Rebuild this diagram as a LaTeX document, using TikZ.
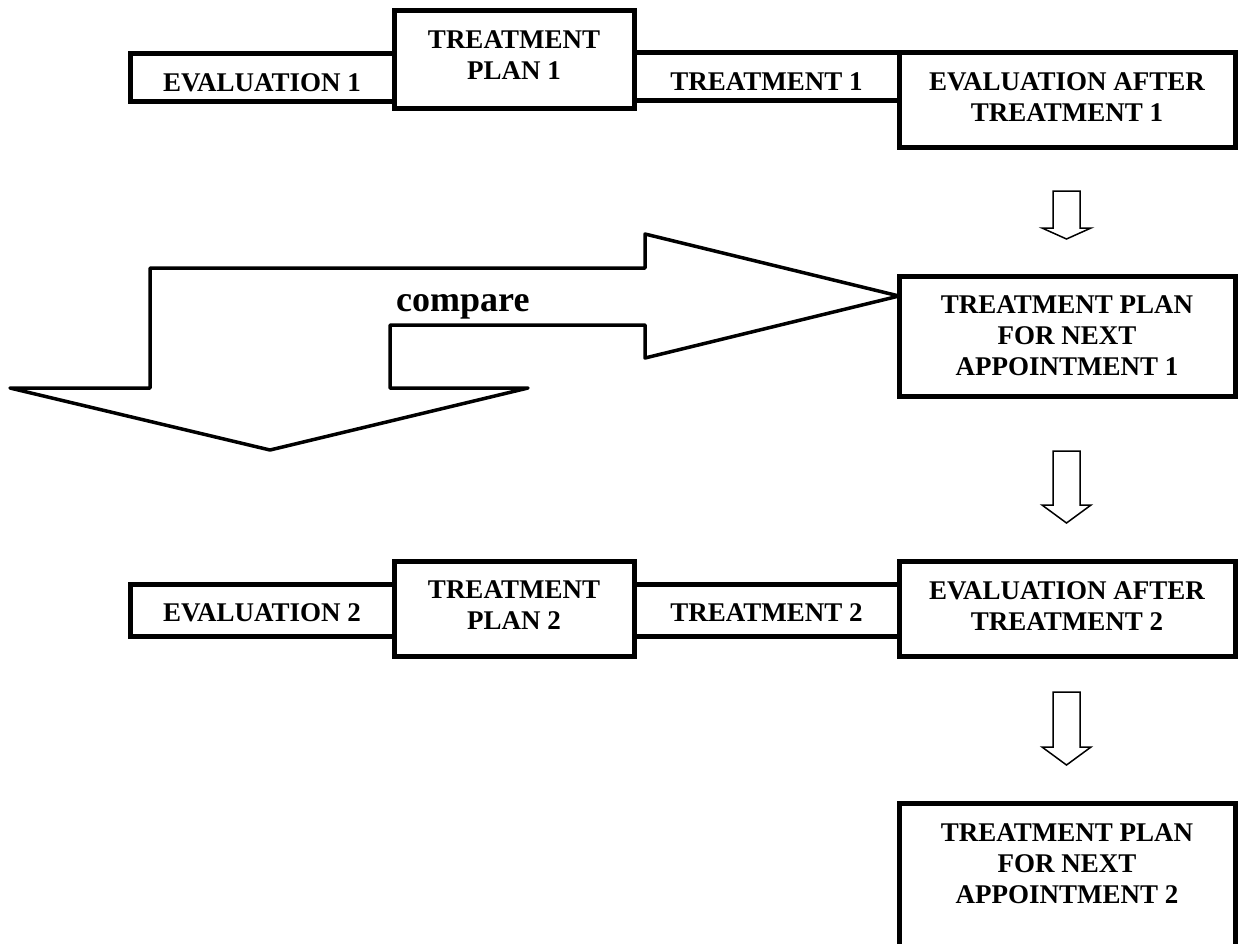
\documentclass[tikz,border=0pt]{standalone}
\usepackage{fontspec}
\setmainfont{Liberation Serif}
\begin{document}
\begin{tikzpicture}[x=1pt,y=-1pt,
  box/.style={draw, line width=5pt, fill=white, inner sep=0pt, align=center,
    font=\fontsize{27}{31}\selectfont\bfseries},
  bigarrow/.style={draw, line width=3.5pt, fill=white, line join=round},
  smallarrow/.style={draw, line width=1.5pt, fill=white},
  cmpfont/.style={font=\fontsize{36}{40}\selectfont\bfseries}]
\useasboundingbox (0,0) rectangle (1239,943);
\fill[white] (0,0) rectangle (1239,943);
\clip (0,0) rectangle (1239,943);

% compare arrow
\draw[bigarrow] (10,388) -- (150,388) -- (150,268) -- (645,268) -- (645,234)
  -- (899,296) -- (645,358) -- (645,325) -- (390,325) -- (390,388)
  -- (528,388) -- (270,450) -- cycle;
\node[cmpfont, anchor=base west, inner sep=0pt] (cmp) at (396,311) {compare};

% top row
\node[box, minimum width=264, minimum height=48, text height=28pt, text depth=0pt] (e1) at (262,77) {EVALUATION 1};
\node[box, minimum width=240, minimum height=98, text height=40pt, text depth=0pt] (tp1) at (514,59) {TREATMENT\\PLAN 1};
\node[box, minimum width=265, minimum height=48, text height=28pt, text depth=0pt] (t1) at (766.5,76.5) {TREATMENT 1};
\node[box, minimum width=336, minimum height=95, text height=42pt, text depth=0pt] (ea1) at (1067,100) {EVALUATION AFTER\\TREATMENT 1};

% right column
\node[box, minimum width=336, minimum height=120, text height=78pt, text depth=0pt] (tpna1) at (1067,336) {TREATMENT PLAN\\FOR NEXT\\APPOINTMENT 1};

% bottom row
\node[box, minimum width=264, minimum height=52, text height=22pt, text depth=0pt] (e2) at (262,610) {EVALUATION 2};
\node[box, minimum width=240, minimum height=95, text height=41pt, text depth=0pt] (tp2) at (514,608.5) {TREATMENT\\PLAN 2};
\node[box, minimum width=265, minimum height=52, text height=22pt, text depth=0pt] (t2) at (766.5,610) {TREATMENT 2};
\node[box, minimum width=336, minimum height=95, text height=43pt, text depth=0pt] (ea2) at (1067,608.5) {EVALUATION AFTER\\TREATMENT 2};

\node[box, minimum width=336, minimum height=300, text height=0pt, text depth=100pt] (tpna2) at (1067,953) {TREATMENT PLAN\\FOR NEXT\\APPOINTMENT 2};

% small block arrows
\draw[smallarrow] (1053,191) -- (1080,191) -- (1080,228) -- (1091,228) -- (1066.5,239) -- (1042,228) -- (1053,228) -- cycle;
\draw[smallarrow] (1053,451) -- (1080,451) -- (1080,505) -- (1091,505) -- (1066.5,523) -- (1042,505) -- (1053,505) -- cycle;
\draw[smallarrow] (1053,692) -- (1080,692) -- (1080,747) -- (1091,747) -- (1066.5,765) -- (1042,747) -- (1053,747) -- cycle;
\end{tikzpicture}
\end{document}
